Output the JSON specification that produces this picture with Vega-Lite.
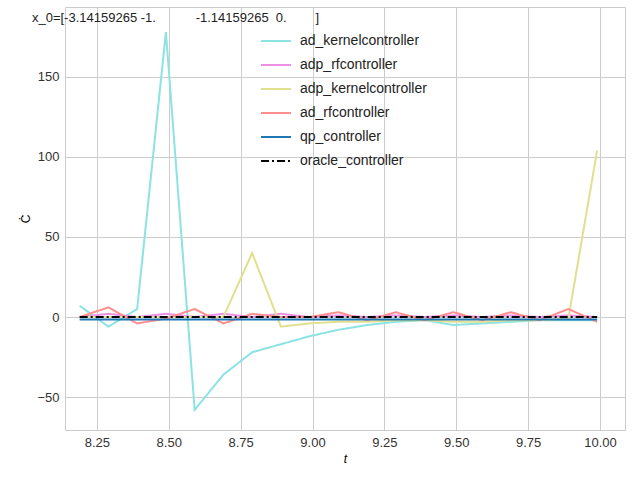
{
  "$schema": "https://vega.github.io/schema/vega-lite/v6.json",
  "autosize": "none",
  "width": 560,
  "height": 423,
  "padding": {"left": 65, "top": 7, "right": 15, "bottom": 50},
  "config": {
    "font": "Liberation Sans",
    "view": {"stroke": "#cccccc"},
    "axis": {"gridColor": "#cccccc", "domain": false, "ticks": false, "labelFontSize": 13, "labelColor": "#333", "labelPadding": 6, "titleFontWeight": "normal", "titleFontSize": 12}
  },
  "datasets": {
    "series": [
      {"t": 8.19, "ad_kernelcontroller": 7, "adp_rfcontroller": 0, "adp_kernelcontroller": 0, "ad_rfcontroller": 0, "qp_controller": -1.5, "oracle_controller": 0},
      {"t": 8.29, "ad_kernelcontroller": -6, "adp_rfcontroller": 2, "adp_kernelcontroller": 0, "ad_rfcontroller": 6, "qp_controller": -1.5, "oracle_controller": 0},
      {"t": 8.39, "ad_kernelcontroller": 5, "adp_rfcontroller": 0, "adp_kernelcontroller": 0, "ad_rfcontroller": -4, "qp_controller": -1.5, "oracle_controller": 0},
      {"t": 8.49, "ad_kernelcontroller": 178, "adp_rfcontroller": 2, "adp_kernelcontroller": 0, "ad_rfcontroller": -1, "qp_controller": -1.5, "oracle_controller": 0},
      {"t": 8.59, "ad_kernelcontroller": -58, "adp_rfcontroller": 0, "adp_kernelcontroller": 0, "ad_rfcontroller": 5, "qp_controller": -1.5, "oracle_controller": 0},
      {"t": 8.69, "ad_kernelcontroller": -36, "adp_rfcontroller": 2, "adp_kernelcontroller": 0, "ad_rfcontroller": -4, "qp_controller": -1.5, "oracle_controller": 0},
      {"t": 8.79, "ad_kernelcontroller": -22, "adp_rfcontroller": 0, "adp_kernelcontroller": 40, "ad_rfcontroller": 2, "qp_controller": -1.5, "oracle_controller": 0},
      {"t": 8.89, "ad_kernelcontroller": -17, "adp_rfcontroller": 2, "adp_kernelcontroller": -6, "ad_rfcontroller": 0, "qp_controller": -1.5, "oracle_controller": 0},
      {"t": 8.99, "ad_kernelcontroller": -12, "adp_rfcontroller": 0, "adp_kernelcontroller": -4, "ad_rfcontroller": 0, "qp_controller": -1.5, "oracle_controller": 0},
      {"t": 9.09, "ad_kernelcontroller": -8, "adp_rfcontroller": 1, "adp_kernelcontroller": -3, "ad_rfcontroller": 3, "qp_controller": -1.5, "oracle_controller": 0},
      {"t": 9.19, "ad_kernelcontroller": -5, "adp_rfcontroller": 0, "adp_kernelcontroller": -3, "ad_rfcontroller": -2, "qp_controller": -1.5, "oracle_controller": 0},
      {"t": 9.29, "ad_kernelcontroller": -3, "adp_rfcontroller": 1, "adp_kernelcontroller": -2, "ad_rfcontroller": 3, "qp_controller": -1.5, "oracle_controller": 0},
      {"t": 9.39, "ad_kernelcontroller": -2, "adp_rfcontroller": 0, "adp_kernelcontroller": -2, "ad_rfcontroller": -2, "qp_controller": -1.5, "oracle_controller": 0},
      {"t": 9.49, "ad_kernelcontroller": -5, "adp_rfcontroller": 1, "adp_kernelcontroller": -3, "ad_rfcontroller": 3, "qp_controller": -1.5, "oracle_controller": 0},
      {"t": 9.59, "ad_kernelcontroller": -4, "adp_rfcontroller": 0, "adp_kernelcontroller": -3, "ad_rfcontroller": -2, "qp_controller": -1.5, "oracle_controller": 0},
      {"t": 9.69, "ad_kernelcontroller": -3, "adp_rfcontroller": 1, "adp_kernelcontroller": -2, "ad_rfcontroller": 3, "qp_controller": -1.5, "oracle_controller": 0},
      {"t": 9.79, "ad_kernelcontroller": -2, "adp_rfcontroller": 0, "adp_kernelcontroller": -2, "ad_rfcontroller": -2, "qp_controller": -1.5, "oracle_controller": 0},
      {"t": 9.89, "ad_kernelcontroller": -2, "adp_rfcontroller": 1, "adp_kernelcontroller": -1, "ad_rfcontroller": 5, "qp_controller": -1.5, "oracle_controller": 0},
      {"t": 9.99, "ad_kernelcontroller": -2, "adp_rfcontroller": 0, "adp_kernelcontroller": 104, "ad_rfcontroller": -3, "qp_controller": -1.5, "oracle_controller": 0}
    ]
  },
  "data": {"name": "series"},
  "transform": [
    {"fold": ["ad_kernelcontroller", "adp_rfcontroller", "adp_kernelcontroller", "ad_rfcontroller", "qp_controller", "oracle_controller"], "as": ["controller", "value"]}
  ],
  "layer": [
    {
      "mark": {"type": "line", "strokeWidth": 2, "clip": true},
      "encoding": {
        "x": {"field": "t", "type": "quantitative", "scale": {"domain": [8.139, 10.087], "nice": false, "zero": false}, "title": "t", "axis": {"values": [8.25, 8.5, 8.75, 9.0, 9.25, 9.5, 9.75, 10.0], "format": ".2f", "titleFontStyle": "italic"}},
        "y": {"field": "value", "type": "quantitative", "scale": {"domain": [-70.6, 193.7], "nice": false}, "axis": {"values": [-50, 0, 50, 100, 150], "format": "~d"}, "title": "Ċ"},
        "color": {
          "field": "controller", "type": "nominal",
          "scale": {"domain": ["ad_kernelcontroller", "adp_rfcontroller", "adp_kernelcontroller", "ad_rfcontroller", "qp_controller", "oracle_controller"],
                    "range": ["#8be3e3", "#ec8fe6", "#e2df8e", "#ff8f8f", "#1f77b4", "#000000"]},
          "legend": {"title": null, "orient": "none", "legendX": 195, "legendY": 18, "symbolType": "stroke", "symbolSize": 900, "symbolStrokeWidth": 2, "labelFontSize": 14, "labelColor": "#222", "labelOffset": 8, "rowPadding": 1}
        },
        "strokeDash": {
          "field": "controller", "type": "nominal",
          "scale": {"domain": ["ad_kernelcontroller", "adp_rfcontroller", "adp_kernelcontroller", "ad_rfcontroller", "qp_controller", "oracle_controller"],
                    "range": [[1, 0], [1, 0], [1, 0], [1, 0], [1, 0], [8, 3, 2, 3]]},
          "legend": null
        }
      }
    }
  ],
  "title": {"text": "x_0=[-3.14159265 -1.\u00a0\u00a0\u00a0\u00a0\u00a0\u00a0\u00a0\u00a0\u00a0\u00a0 -1.14159265\u00a0 0.\u00a0\u00a0\u00a0\u00a0\u00a0\u00a0\u00a0\u00a0]", "orient": "top", "anchor": "start", "offset": -18, "dx": 12, "fontSize": 13, "fontWeight": "normal", "color": "#222"}
}
